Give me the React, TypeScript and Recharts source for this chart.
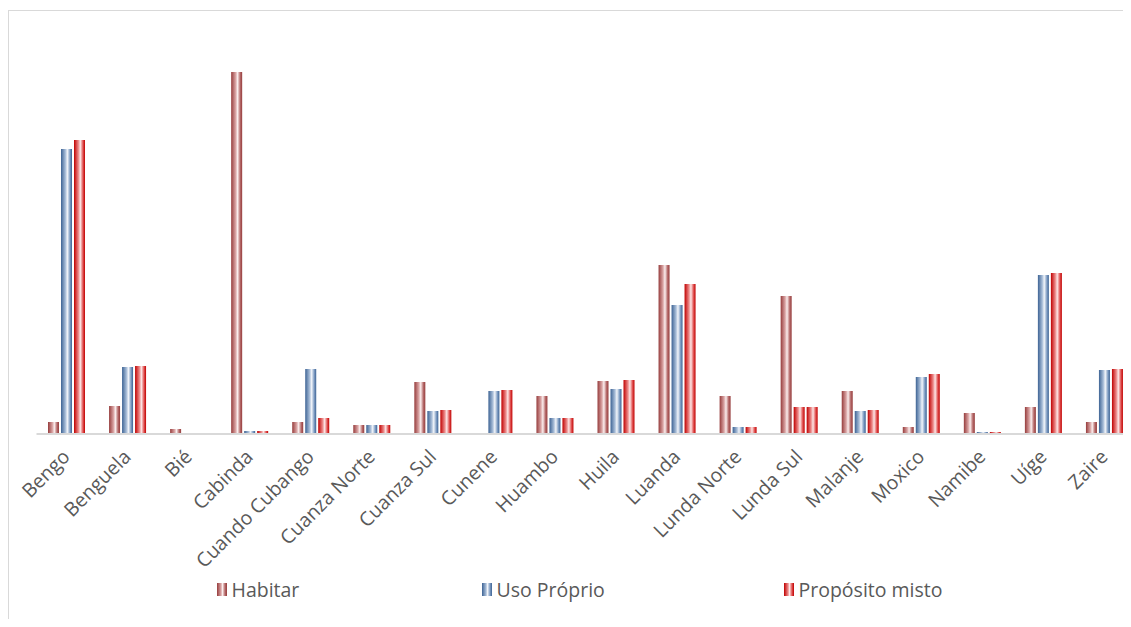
import React from "react";
import { BarChart, Bar, XAxis, YAxis, Legend, Cell } from "recharts";

const provinces = [
  "Bengo", "Benguela", "Bié", "Cabinda", "Cuando Cubango", "Cuanza Norte",
  "Cuanza Sul", "Cunene", "Huambo", "Huila", "Luanda", "Lunda Norte",
  "Lunda Sul", "Malanje", "Moxico", "Namibe", "Uíge", "Zaire",
];
const habitar = [12, 28, 5, 362, 12, 9, 52, 0, 38, 53, 169, 38, 138, 43, 7, 21, 27, 12];
const usoProprio = [285, 67, 0, 3, 65, 9, 23, 43, 16, 45, 129, 7, 27, 23, 57, 2, 159, 64];
const propositoMisto = [294, 68, 0, 3, 16, 9, 24, 44, 16, 54, 150, 7, 27, 24, 60, 2, 161, 65];

const data = provinces.map((p, i) => ({
  name: p,
  habitar: habitar[i],
  uso: usoProprio[i],
  misto: propositoMisto[i],
}));

const TEXT = "#595959";
const FONT = "'Open Sans', sans-serif";

const legendItems = [
  { label: "Habitar", left: 180, bg: "linear-gradient(90deg,#963c3c,#d9a3a3 40%,#fbeeee 55%,#b56a6a 80%,#963c3c)" },
  { label: "Uso Próprio", left: 445, bg: "linear-gradient(90deg,#3d6394,#a8bdd8 40%,#f2f5fa 55%,#7d9bc2 80%,#3d6394)" },
  { label: "Propósito misto", left: 747, bg: "linear-gradient(90deg,#c00000,#ec8a8a 40%,#fde6e6 55%,#e05050 80%,#c00000)" },
];

function AxisTick({ x, y, payload }: { x?: number; y?: number; payload?: { value: string } }) {
  const ax = (x ?? 0) + 4;
  const ay = (y ?? 0) + 16;
  return (
    <text
      x={ax}
      y={ay}
      transform={`rotate(-45, ${ax}, ${ay})`}
      textAnchor="end"
      fill={TEXT}
      fontSize={19.5}
      fontFamily={FONT}
    >
      {payload?.value}
    </text>
  );
}

function LegendBox() {
  return (
    <div style={{ position: "relative", height: 45, width: 1100 }}>
      {legendItems.map((it) => (
        <div
          key={it.label}
          style={{
            position: "absolute",
            left: it.left,
            top: 0,
            height: 30,
            display: "flex",
            alignItems: "center",
            fontFamily: FONT,
            fontSize: 19.5,
            color: TEXT,
            whiteSpace: "nowrap",
          }}
        >
          <span style={{ display: "inline-block", width: 10, height: 13, background: it.bg, marginRight: 5 }} />
          {it.label}
        </div>
      ))}
    </div>
  );
}

export default function App() {
  return (
    <div style={{ position: "relative", width: 1123, height: 611, overflow: "hidden" }}>
      <div
        style={{
          position: "absolute",
          left: 0,
          top: 2,
          width: 1200,
          height: 700,
          borderLeft: "1px solid #d9d9d9",
          borderTop: "1px solid #d9d9d9",
        }}
      />
      <div style={{ position: "absolute", left: 0, top: 0 }}>
        <BarChart
          width={1130}
          height={611}
          data={data}
          margin={{ top: 26, right: 2.5, left: 28.5, bottom: 0 }}
          barGap={2}
          barCategoryGap={11.5}
        >
          <defs>
            <linearGradient id="gHab" x1="0" y1="0" x2="1" y2="0">
              <stop offset="0%" stopColor="#963c3c" />
              <stop offset="40%" stopColor="#d9a3a3" />
              <stop offset="58%" stopColor="#fbeeee" />
              <stop offset="82%" stopColor="#b56a6a" />
              <stop offset="100%" stopColor="#963c3c" />
            </linearGradient>
            <linearGradient id="gUso" x1="0" y1="0" x2="1" y2="0">
              <stop offset="0%" stopColor="#3d6394" />
              <stop offset="40%" stopColor="#a8bdd8" />
              <stop offset="58%" stopColor="#f2f5fa" />
              <stop offset="82%" stopColor="#7d9bc2" />
              <stop offset="100%" stopColor="#3d6394" />
            </linearGradient>
            <linearGradient id="gMix" x1="0" y1="0" x2="1" y2="0">
              <stop offset="0%" stopColor="#c00000" />
              <stop offset="40%" stopColor="#ec8a8a" />
              <stop offset="58%" stopColor="#fde6e6" />
              <stop offset="82%" stopColor="#e05050" />
              <stop offset="100%" stopColor="#c00000" />
            </linearGradient>
          </defs>
          <XAxis
            dataKey="name"
            interval={0}
            tick={<AxisTick />}
            tickLine={false}
            axisLine={{ stroke: "#d9d9d9", strokeWidth: 2 }}
            height={140}
          />
          <YAxis hide domain={[0, 400]} />
          <Legend verticalAlign="bottom" content={<LegendBox />} />
          <Bar dataKey="habitar" name="Habitar" fill="url(#gHab)" isAnimationActive={false} />
          <Bar dataKey="uso" name="Uso Próprio" fill="url(#gUso)" isAnimationActive={false}>
            {data.map((d) => (
              <Cell key={d.name} fill={d.name === "Lunda Sul" ? "url(#gMix)" : "url(#gUso)"} />
            ))}
          </Bar>
          <Bar dataKey="misto" name="Propósito misto" fill="url(#gMix)" isAnimationActive={false} />
        </BarChart>
      </div>
    </div>
  );
}
